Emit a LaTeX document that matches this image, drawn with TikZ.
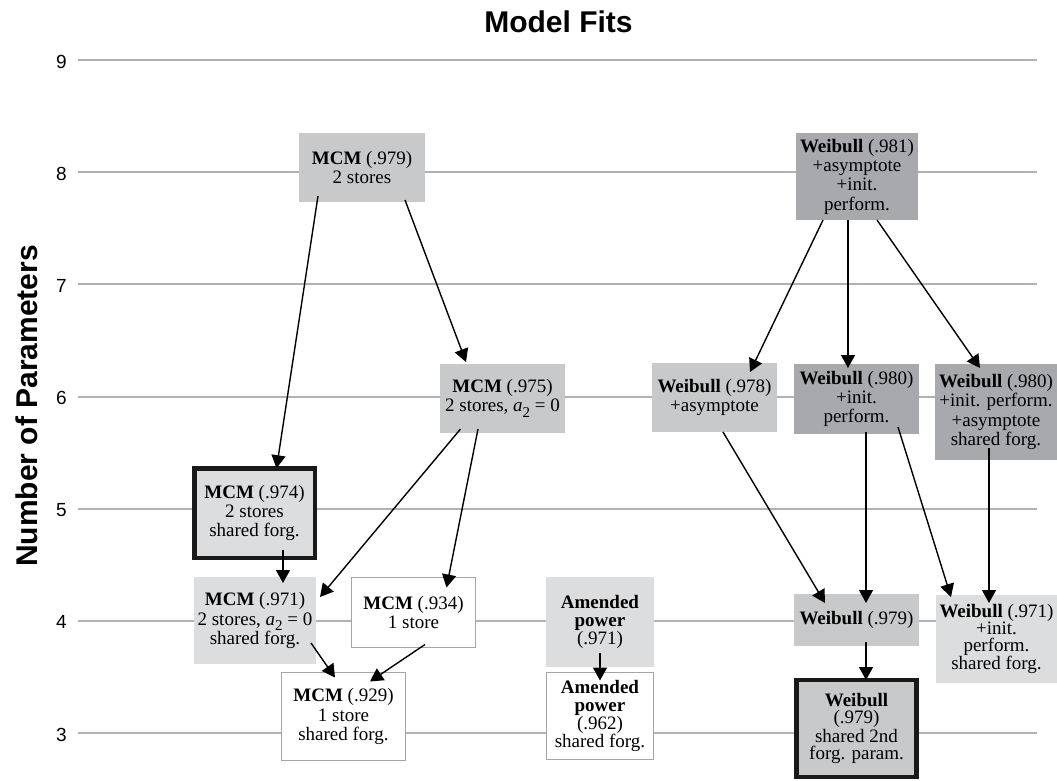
\documentclass[tikz,border=0pt]{standalone}
\usepackage{fontspec}
\setmainfont{Liberation Serif}
\newfontfamily\sansf{Liberation Sans}
\usetikzlibrary{arrows.meta}
\definecolor{dk}{RGB}{168,169,173}
\definecolor{md}{RGB}{200,201,203}
\definecolor{lt}{RGB}{220,221,223}
\definecolor{gridc}{RGB}{175,177,180}
\definecolor{wbord}{RGB}{165,165,168}
\tikzset{
  box/.style={inner sep=0pt, outer sep=0pt, align=center, anchor=center,
    font=\fontsize{19}{19.3}\selectfont},
  lead/.style={font=\fontsize{19}{#1}\selectfont},
  wh/.style 2 args={minimum width=#1pt, minimum height=#2pt},
  dkbox/.style={box, fill=dk},
  mdbox/.style={box, fill=md},
  ltbox/.style={box, fill=lt},
  whbox/.style={box, fill=white, draw=wbord, line width=1.5pt},
  heavybox/.style={draw=black!90, line width=4.5pt},
  conn/.style={line width=1.4pt, -{Triangle[length=13pt,width=14pt]}},
  gridline/.style={draw=gridc, line width=2pt},
  ticklab/.style={font=\sansf\fontsize{19}{19}\selectfont, anchor=base east, inner sep=0pt},
}
\newcommand\atwo{\textit{a}\raisebox{-0.3em}{\fontsize{15}{15}\selectfont 2}}
\begin{document}
\begin{tikzpicture}[x=1pt,y=-1pt]
\useasboundingbox (0,0) rectangle (1057,780);
% grid and axis labels
\foreach \k in {3,...,9}{
  \draw[gridline] (78,{60+(9-\k)*112.17}) -- (1037,{60+(9-\k)*112.17});
  \node[ticklab] (t\k) at (67,{68+(9-\k)*112.17}) {\k};
}
\node[font=\sansf\bfseries\fontsize{30}{30}\selectfont, anchor=base, inner sep=0pt] (title) at (558.5,32) {Model Fits};
\node[font=\sansf\bfseries\fontsize{30}{30}\selectfont, anchor=base, inner sep=0pt, rotate=90] (ylab) at (37,406) {Number of Parameters};
% boxes
\node[mdbox, wh={126}{69}] (m979) at (362,167.5) {\textbf{MCM} (.979)\\2 stores};
\node[dkbox, wh={122}{87}] (w981) at (857,176.5) {\textbf{Weibull} (.981)\\+asymptote\\+init.\\perform.};
\node[mdbox, wh={125}{69}] (m975) at (502.5,398.5) {\textbf{MCM} (.975)\\2 stores, \atwo{} = 0};
\node[mdbox, wh={125}{69}] (w978) at (714.5,397.5) {\textbf{Weibull} (.978)\\+asymptote};
\node[dkbox, wh={125}{70}] (w980a) at (856.5,399) {\textbf{Weibull} (.980)\\+init.\\perform.};
\node[dkbox, wh={122}{96}] (w980b) at (996,412) {\textbf{Weibull} (.980)\\+init. perform.\\+asymptote\\shared forg.};
\node[ltbox, heavybox, wh={120.5}{89.5}] (m974) at (254.5,513) {\textbf{MCM} (.974)\\2 stores\\shared forg.};
\node[ltbox, wh={122}{87}] (m971) at (255,620.5) {\textbf{MCM} (.971)\\2 stores, \atwo{} = 0\\shared forg.};
\node[whbox, wh={124}{70}] (m934) at (413.5,612.5) {\textbf{MCM} (.934)\\1 store};
\node[whbox, wh={124}{88}] (m929) at (343.5,716.5) {\textbf{MCM} (.929)\\1 store\\shared forg.};
\node[ltbox, lead=18, wh={108}{90}] (a971) at (600,622) {\textbf{Amended}\\\textbf{power}\\(.971)};
\node[whbox, lead=18, wh={107}{87}] (a962) at (600,716) {\textbf{Amended}\\\textbf{power}\\(.962)\\shared forg.};
\node[mdbox, wh={125}{52}] (w979) at (856.5,620) {\textbf{Weibull} (.979)};
\node[ltbox, lead=17.2, wh={121}{88}] (w971) at (996.5,639) {\textbf{Weibull} (.971)\\+init.\\perform.\\shared forg.};
\node[mdbox, heavybox, lead=17.2, wh={120}{97}] (w979b) at (856.5,728.5) {\textbf{Weibull}\\(.979)\\shared 2nd\\forg. param.};
% connectors
\draw[conn] ([xshift=-44pt,yshift=6pt]m979.south) -- ([xshift=22pt]m974.north);
\draw[conn] ([xshift=43pt,yshift=2pt]m979.south) -- ([xshift=-36.5pt,yshift=2pt]m975.north);
\draw[conn] ([xshift=-42pt,yshift=4pt]m975.south) -- ([xshift=4pt,yshift=23.5pt]m971.east);
\draw[conn] ([xshift=-24.5pt,yshift=4pt]m975.south) -- ([xshift=33pt,yshift=-10pt]m934.north);
\draw[conn] ([xshift=28.5pt,yshift=8pt]m974.south) -- ([xshift=28pt,yshift=-6pt]m971.north);
\draw[conn] ([xshift=-5pt,yshift=21pt]m971.south east) -- ([xshift=-8.5pt,yshift=-5pt]m929.north);
\draw[conn] ([xshift=11.5pt,yshift=3pt]m934.south) -- ([xshift=26.5pt,yshift=-9pt]m929.north);
\draw[conn] ([yshift=14pt]a971.south) -- ([yshift=-8pt]a962.north);
\draw[conn] ([xshift=-34pt]w981.south) -- ([xshift=35.5pt,yshift=-9pt]w978.north);
\draw[conn] ([xshift=-9pt]w981.south) -- ([xshift=-8.5pt,yshift=-4pt]w980a.north);
\draw[conn] ([xshift=20pt]w981.south) -- ([xshift=-16pt,yshift=-4pt]w980b.north);
\draw[conn] ([xshift=8.5pt]w978.south) -- ([xshift=-31.5pt,yshift=-9pt]w979.north);
\draw[conn] ([xshift=9.5pt,yshift=2pt]w980a.south) -- ([xshift=9.5pt,yshift=-9pt]w979.north);
\draw[conn] ([xshift=41.5pt,yshift=7pt]w980a.south) -- ([xshift=-45.5pt,yshift=-2pt]w971.north);
\draw[conn] ([xshift=-7pt,yshift=12pt]w980b.south) -- ([xshift=-7.5pt,yshift=-8pt]w971.north);
\draw[conn] ([xshift=9.5pt,yshift=4pt]w979.south) -- ([xshift=9.5pt]w979b.north);
\end{tikzpicture}
\end{document}
